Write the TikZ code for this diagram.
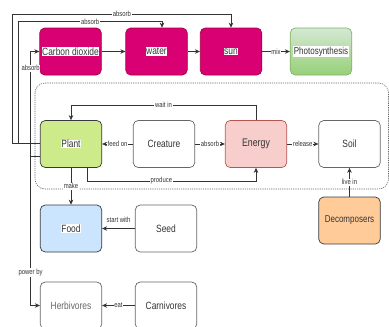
\documentclass[tikz,border=0pt]{standalone}
\usepackage{fontspec}
\setmainfont{Liberation Sans}[FakeStretch=0.8]
\usepackage{tikz}
\usepackage{xcolor}
\definecolor{Ruby}{HTML}{D80073}
\definecolor{RubyLine}{HTML}{A50040}
\definecolor{LeafTop}{HTML}{D5E8D4}
\definecolor{LeafBottom}{HTML}{97D077}
\definecolor{LeafLine}{HTML}{82B366}
\definecolor{Lime}{HTML}{CDEB8B}
\definecolor{Blush}{HTML}{F8CECC}
\definecolor{BlushLine}{HTML}{B85450}
\definecolor{Sky}{HTML}{CCE5FF}
\definecolor{Peach}{HTML}{FFCC99}
\definecolor{Charcoal}{HTML}{36393D}
\definecolor{Slate}{HTML}{666666}
\definecolor{Ink}{HTML}{333333}
\usetikzlibrary{arrows.meta}
\newcommand{\onwhite}[1]{{\setlength{\fboxsep}{0.6pt}\colorbox{white}{#1}}}

\begin{document}
\begin{tikzpicture}[
    x=1pt, y=-1pt,
    box/.style={rectangle, rounded corners=5pt, minimum width=61.5pt, minimum height=47pt, draw=Slate, fill=white, line width=0.7pt, text=Ink, inner sep=1pt, font=\fontsize{10.5}{12}\selectfont},
    ruby/.style={box, fill=Ruby, draw=RubyLine},
    leaf/.style={box, top color=LeafTop, bottom color=LeafBottom, draw=LeafLine, font=\fontsize{10}{12}\selectfont},
    lime/.style={box, fill=Lime, draw=Charcoal},
    blush/.style={box, fill=Blush, draw=BlushLine, font=\fontsize{11}{12}\selectfont},
    sky/.style={box, fill=Sky, draw=Charcoal},
    peach/.style={box, fill=Peach, draw=Charcoal, font=\fontsize{10}{12}\selectfont},
    group/.style={draw=Slate, line width=0.6pt, dash pattern=on 1.2pt off 1pt, rounded corners=10pt},
    link/.style={-{Stealth[length=5pt, width=4.5pt]}, draw=Ink, line width=0.7pt},
    lbl/.style={fill=white, inner sep=0.8pt, text=Ink, font=\fontsize{7.4}{8}\selectfont}
]
\useasboundingbox (0,0) rectangle (389,327);
\clip (0,0) rectangle (389,327);

% Dashed group
\draw[group] (35,83) rectangle (388.5,189);

% Top row
\node[ruby] (co2) at (70.5,51.5) {\onwhite{Carbon dioxide}};
\node[ruby] (water) at (156.5,51.5) {\onwhite{water}};
\node[ruby] (sun) at (231,51.5) {\onwhite{sun}};
\node[leaf] (photo) at (321,51.5) {\onwhite{Photosynthesis}};

% Middle row
\node[lime] (plant) at (71,144) {\onwhite{Plant}};
\node[box] (creature) at (164,144) {Creature};
\node[blush] (energy) at (256,144) {Energy};
\node[box] (soil) at (349.5,144) {Soil};
\node[peach] (decomp) at (349.5,220.5) {Decomposers};

% Bottom rows
\node[sky] (food) at (71,228.5) {\onwhite{Food}};
\node[box] (seed) at (166,228.5) {Seed};
\node[box, text=Slate] (herb) at (71,305.5) {Herbivores};
\node[box] (carn) at (166,305.5) {Carnivores};

% Links
\draw[link] (co2) -- (water);
\draw[link] (water) -- (sun);
\draw[link] (sun) -- node[lbl] {mix} (photo);
\draw[link] ([yshift=0.7pt]plant.west) -| (12.7,14) -| node[lbl, pos=0.25] {absorb} (sun.north);
\draw[link] ([yshift=0.7pt]plant.west) -| (18.3,21.7) -| node[lbl, pos=0.25] {absorb} ([xshift=5.5pt]water.north);
\draw[link] ([yshift=-12pt]plant.west) -- ++(-9.3,0) |- node[lbl, pos=0.42] {absorb} (co2.west);
\draw[link] ([yshift=-12pt]plant.west) -- ++(-9.3,0) |- node[lbl, pos=0.39] {power by} (herb.west);
\draw[link] (energy.north) -- ++(0,-15) -| node[lbl, pos=0.25] {wait in} (plant.north);
\draw[link] (creature) -- node[lbl] {feed on} (plant);
\draw[link] (creature) -- node[lbl] {absorb} (energy);
\draw[link] (energy) -- node[lbl] {release} (soil);
\draw[link] ([xshift=16pt]plant.south) -- ++(0,13) -| node[lbl, pos=0.22] {produce} (energy.south);
\draw[link] (plant) -- node[lbl] {make} (food);
\draw[link] (decomp) -- node[lbl] {live in} (soil);
\draw[link] (seed) -- node[lbl, fill=none, above=5pt] {start with} (food);
\draw[link] (carn) -- node[lbl] {eat} (herb);

\end{tikzpicture}
\end{document}
